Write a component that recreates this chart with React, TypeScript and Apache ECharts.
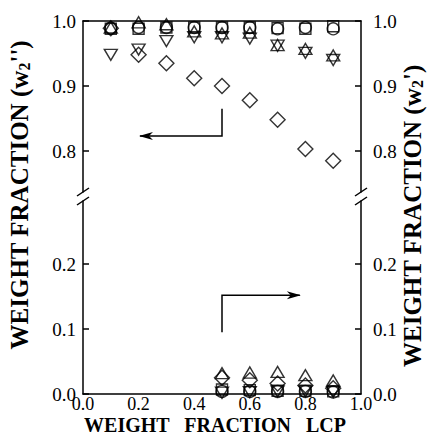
import React, { useEffect, useRef } from "react";
import * as echarts from "echarts";

const xTop = [0.1, 0.2, 0.3, 0.4, 0.5, 0.6, 0.7, 0.8, 0.9];
const circleTop = [0.989, 0.99, 0.99, 0.99, 0.99, 0.99, 0.988, 0.99, 0.988];
const squareTop = [0.988, 0.988, 0.99, 0.99, 0.99, 0.99, 0.989, 0.988, 0.992];
const triUpTop = [0.99, 0.998, 0.995, 0.984, 0.981, 0.982, 0.963, 0.957, 0.947];
const triDownTop = [0.948, 0.956, 0.969, 0.975, 0.975, 0.973, 0.962, 0.951, 0.94];
const diamondTop = [0.989, 0.948, 0.935, 0.912, 0.9, 0.878, 0.848, 0.803, 0.785];

const xBottom = [0.5, 0.6, 0.7, 0.8, 0.9];
const triUpBot = [0.032, 0.033, 0.034, 0.029, 0.021];
const diamondBot = [0.025, 0.021, 0.016, 0.013, 0.009];
const squareBot = [0.007, 0.006, 0.005, 0.005, 0.004];
const circleBot = [0.004, 0.004, 0.004, 0.004, 0.003];
const triDownBot = [0.002, 0.003, 0.004, 0.004, 0.003];

const topTicks = [0.8, 0.9, 1.0];
const bottomTicks = [0, 0.1, 0.2];
const xTicks = [0, 0.2, 0.4, 0.6, 0.8, 1.0];

const FONT = "'Liberation Serif', 'Times New Roman', Times, serif";

const symbols: Record<string, { symbol: string; size: number | number[] }> = {
  circle: { symbol: "circle", size: 12 },
  square: { symbol: "rect", size: 11 },
  triUp: { symbol: "path://M0,2L1,0L2,2Z", size: [13, 11] },
  triDown: { symbol: "path://M0,0L2,0L1,2Z", size: [13, 11] },
  diamond: { symbol: "path://M1,0L2,1L1,2L0,1Z", size: 15 },
};

function mk(name: string, xs: number[], ys: number[], gi: number) {
  const s = symbols[name];
  return {
    type: "scatter",
    name: name + gi,
    xAxisIndex: gi,
    yAxisIndex: gi * 2,
    data: xs.map((x, i) => [x, ys[i]]),
    symbol: s.symbol,
    symbolSize: s.size,
    clip: false,
    itemStyle: { color: "rgba(0,0,0,0)", borderColor: "#000", borderWidth: 1.4 },
    emphasis: { disabled: true },
  };
}

function yAxisDef(gi: number, pos: "left" | "right", min: number, max: number, ticks: number[]) {
  return {
    type: "value",
    gridIndex: gi,
    position: pos,
    min,
    max,
    axisLine: { show: true, lineStyle: { color: "#000", width: 1.5 } },
    axisTick: { show: true, inside: true, length: 6, customValues: ticks, lineStyle: { color: "#000", width: 1.5 } },
    axisLabel: {
      show: true,
      customValues: ticks,
      formatter: (v: number) => v.toFixed(1),
      fontFamily: FONT,
      fontSize: 19,
      lineHeight: 13,
      color: "#000",
      margin: pos === "right" ? 12 : 7,
    },
    splitLine: { show: false },
  };
}

export default function App() {
  const ref = useRef<HTMLDivElement>(null);
  useEffect(() => {
    if (!ref.current) return;
    const chart = echarts.init(ref.current, undefined, { renderer: "svg" });
    const option: any = {
      animation: false,
      backgroundColor: "#fff",
      textStyle: { fontFamily: FONT },
      grid: [
        { left: 83, right: 66, top: 21, height: 171 },
        { left: 83, right: 66, top: 201, height: 193 },
      ],
      xAxis: [
        {
          type: "value",
          gridIndex: 0,
          position: "top",
          min: 0,
          max: 1,
          axisLine: { show: true, onZero: false, lineStyle: { color: "#000", width: 1.5 } },
          axisTick: { show: false },
          axisLabel: { show: false },
          splitLine: { show: false },
        },
        {
          type: "value",
          gridIndex: 1,
          position: "bottom",
          min: 0,
          max: 1,
          interval: 0.2,
          axisLine: { show: true, onZero: false, lineStyle: { color: "#000", width: 1.5 } },
          axisTick: { show: false },
          axisLabel: {
            show: true,
            customValues: xTicks,
            formatter: (v: number) => v.toFixed(1),
            fontFamily: FONT,
            fontSize: 18,
            color: "#000",
            margin: 1,
          },
          splitLine: { show: false },
        },
      ],
      yAxis: [
        yAxisDef(0, "left", 0.737, 1.0, topTicks),
        yAxisDef(0, "right", 0.737, 1.0, topTicks),
        yAxisDef(1, "left", 0, 0.297, bottomTicks),
        yAxisDef(1, "right", 0, 0.297, bottomTicks),
      ],
      series: [
        mk("circle", xTop, circleTop, 0),
        mk("square", xTop, squareTop, 0),
        mk("triUp", xTop, triUpTop, 0),
        mk("triDown", xTop, triDownTop, 0),
        mk("diamond", xTop, diamondTop, 0),
        mk("circle", xBottom, circleBot, 1),
        mk("square", xBottom, squareBot, 1),
        mk("triUp", xBottom, triUpBot, 1),
        mk("triDown", xBottom, triDownBot, 1),
        mk("diamond", xBottom, diamondBot, 1),
      ],
    };
    chart.setOption(option);

    const p = (gi: number, x: number, y: number) =>
      chart.convertToPixel({ gridIndex: gi } as any, [x, y]) as number[];
    const a1 = p(0, 0.5, 0.865);
    const a2 = p(0, 0.5, 0.823);
    const a3 = p(0, 0.205, 0.823);
    const b1 = p(1, 0.5, 0.095);
    const b2 = p(1, 0.5, 0.152);
    const b3 = p(1, 0.78, 0.152);
    const lineStyle = { stroke: "#000", lineWidth: 1.5, fill: null };
    const brk = (x: number) => [
      { type: "line", shape: { x1: x - 6, y1: 196, x2: x + 6, y2: 188 }, style: lineStyle },
      { type: "line", shape: { x1: x - 6, y1: 205, x2: x + 6, y2: 197 }, style: lineStyle },
    ];
    const titleFont = "bold 25px " + FONT;
    const titleRich = {
      s: { fontSize: 16, fontWeight: "bold", fontFamily: FONT, padding: [10, 0, 0, 0] },
    };
    chart.setOption({
      graphic: [
        { type: "polyline", shape: { points: [a1, a2, a3] }, style: lineStyle },
        {
          type: "polygon",
          shape: { points: [[a3[0] - 1, a3[1]], [a3[0] + 13, a3[1] - 4], [a3[0] + 9, a3[1]], [a3[0] + 13, a3[1] + 4]] },
          style: { fill: "#000" },
        },
        { type: "polyline", shape: { points: [b1, b2, b3] }, style: lineStyle },
        {
          type: "polygon",
          shape: { points: [[b3[0] + 1, b3[1]], [b3[0] - 13, b3[1] - 4], [b3[0] - 9, b3[1]], [b3[0] - 13, b3[1] + 4]] },
          style: { fill: "#000" },
        },
        ...brk(83),
        ...brk(361),
        {
          type: "text",
          x: 19,
          y: 195,
          rotation: Math.PI / 2,
          style: {
            text: "WEIGHT FRACTION (w{s|2}'')",
            font: titleFont,
            fill: "#000",
            align: "center",
            verticalAlign: "middle",
            rich: titleRich,
          },
        },
        {
          type: "text",
          x: 412,
          y: 216,
          rotation: Math.PI / 2,
          style: {
            text: "WEIGHT FRACTION (w{s|2}')",
            font: titleFont,
            fill: "#000",
            align: "center",
            verticalAlign: "middle",
            rich: titleRich,
          },
        },
        {
          type: "text",
          x: 215,
          y: 425,
          style: {
            text: "WEIGHT   FRACTION   LCP",
            font: "bold 20px " + FONT,
            fill: "#000",
            align: "center",
            verticalAlign: "middle",
          },
        },
      ],
    });
    return () => chart.dispose();
  }, []);
  return (
    <div
      ref={ref}
      style={{ position: "fixed", left: 0, top: 0, width: 427, height: 435, background: "#fff" }}
    />
  );
}
